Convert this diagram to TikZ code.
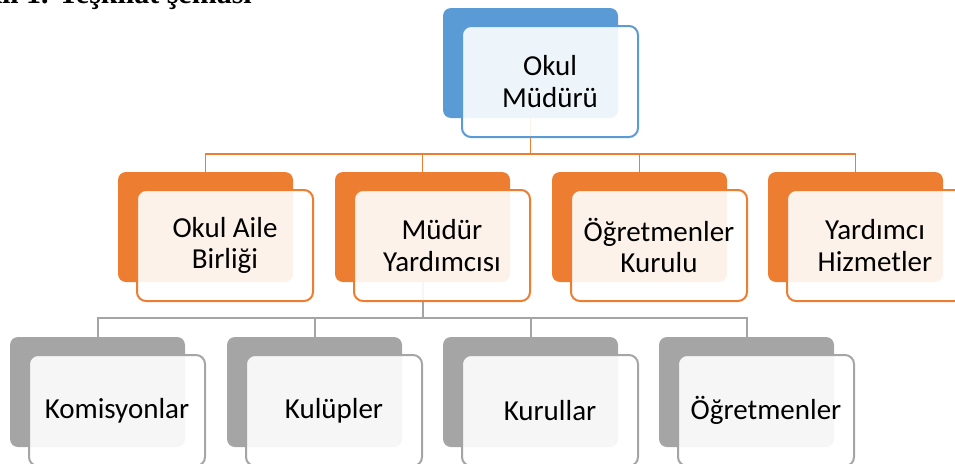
\documentclass[tikz,border=0pt]{standalone}
\usepackage{fontspec}
\setmainfont{Carlito}
\newfontfamily\capfont{Liberation Serif}
\definecolor{cblue}{HTML}{5B9BD5}
\definecolor{corange}{HTML}{ED7D31}
\definecolor{cgray}{HTML}{A5A5A5}
\begin{document}
\begin{tikzpicture}[x=1pt,y=-1pt,
  backbox/.style={anchor=north west, minimum width=175pt, minimum height=110pt,
    rounded corners=8pt, inner sep=0pt, outer sep=0pt},
  frontbox/.style={anchor=north west, minimum width=176pt, minimum height=111pt,
    rounded corners=9pt, inner sep=0pt, outer sep=0pt, line width=2pt,
    fill=white, fill opacity=0.9, text opacity=1, align=center,
    font=\fontsize{29}{31.5}\selectfont},
  bconn/.style={corange, line width=1.6pt},
  gconn/.style={cgray, line width=2pt}]
\useasboundingbox (0,0) rectangle (955,463);
\clip (0,0) rectangle (955,463);
% caption (clipped at the top, as in the reference)
\node[anchor=base east, inner sep=0pt, font=\capfont\bfseries\fontsize{30}{34}\selectfont] (cap) at (252,3) {Şekil 1. Teşkilat şeması};
% back boxes
\node[backbox, fill=cblue] (topb) at (443,8) {};
\foreach \n/\x in {aile/118, mudy/335, ogk/552, yard/768}
  \node[backbox, fill=corange] (\n b) at (\x,172) {};
\foreach \n/\x in {kom/10, kul/227, kur/443, ogr/659}
  \node[backbox, fill=cgray] (\n b) at (\x,337) {};
% bars
\coordinate (bar1) at (0,154);
\coordinate (bar2) at (0,318);
% connectors
\foreach \n in {aile, mudy, ogk, yard}
  \draw[bconn] (topb.south) -- (topb.south |- bar1) -| (\n b.north);
\foreach \n in {kom, kul, kur, ogr}
  \draw[gconn] (mudyb.south) -- (mudyb.south |- bar2) -| (\n b.north);
% front boxes
\node[frontbox, draw=cblue] (topf) at (462,26) {Okul\\Müdürü};
\node[frontbox, draw=corange] (ailef) at (137,190) {Okul Aile\\Birliği};
\node[frontbox, draw=corange] (mudyf) at (354,190) {Müdür\\Yardımcısı};
\node[frontbox, draw=corange] (ogkf) at (571,190) {Öğretmenler\\Kurulu};
\node[frontbox, draw=corange] (yardf) at (787,190) {Yardımcı\\Hizmetler};
\node[frontbox, draw=cgray] (komf) at (29,355) {Komisyonlar};
\node[frontbox, draw=cgray] (kulf) at (246,355) {Kulüpler};
\node[frontbox, draw=cgray] (kurf) at (462,355) {Kurullar};
\node[frontbox, draw=cgray] (ogrf) at (678,355) {Öğretmenler};
\end{tikzpicture}
\end{document}
